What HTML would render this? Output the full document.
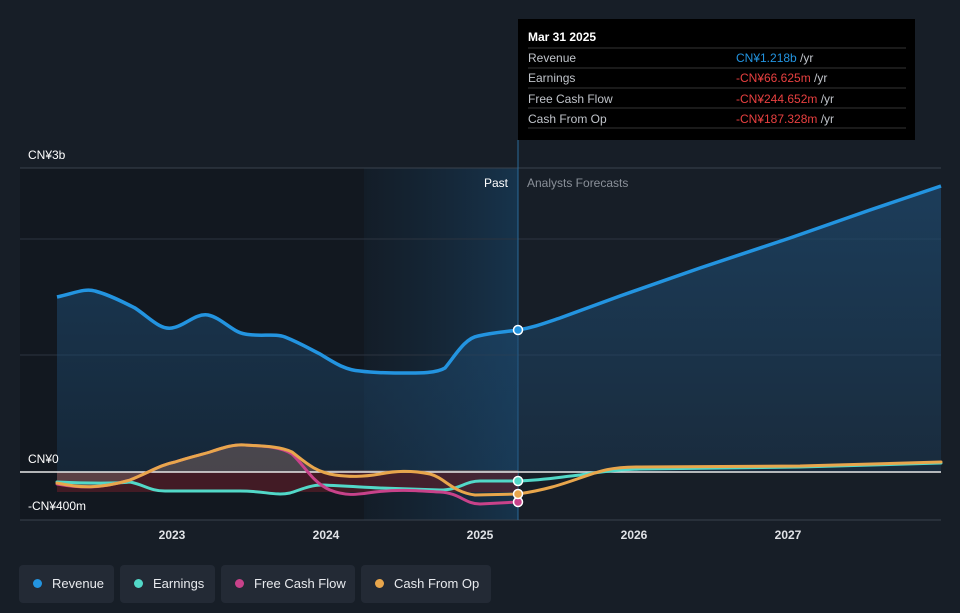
<!DOCTYPE html><html><head><style>
body{margin:0;background:#151b24;font-family:"Liberation Sans",sans-serif;}
.lg{position:absolute;top:565px;height:38px;background:#232a35;border-radius:4px;color:#e8eaee;font-size:13px;line-height:38px;}
.lg i{display:inline-block;width:9px;height:9px;border-radius:50%;margin:0 10px 0 14px;vertical-align:0}
</style></head><body>
<div style="position:relative;width:960px;height:613px;overflow:hidden">
<svg width="960" height="613" style="position:absolute;left:0;top:0">
<defs>
<linearGradient id="hl" x1="0" x2="1"><stop offset="0" stop-color="#1a3a56" stop-opacity="0.15"/><stop offset="1" stop-color="#1a4a70" stop-opacity="0.55"/></linearGradient>
<linearGradient id="rv" x1="0" y1="0" x2="0" y2="1"><stop offset="0" stop-color="#1e4a70" stop-opacity="0.7"/><stop offset="1" stop-color="#1e4a70" stop-opacity="0.3"/></linearGradient>
</defs>
<rect x="0" y="0" width="960" height="613" fill="#171e27"/>
<rect x="20" y="168" width="498" height="352" fill="#121820"/>
<rect x="364" y="168" width="154" height="352" fill="url(#hl)"/>
<g stroke="#2c3440" stroke-width="1">
<line x1="20" y1="168" x2="941" y2="168" stroke="#3a424d"/>
<line x1="20" y1="239" x2="941" y2="239"/>
<line x1="20" y1="355" x2="941" y2="355"/>
<line x1="20" y1="520" x2="941" y2="520" stroke="#3a424d"/>
</g>
<line x1="518" y1="140" x2="518" y2="520" stroke="#2a6a9a" stroke-width="1"/>
<path d="M57,297 C75,293 85,288 95,291 C110,295 125,303 135,308 C150,318 160,330 172,328 C185,326 195,313 208,315 C222,318 232,332 245,334 C260,337 275,333 285,337 C300,343 310,349 320,354 C335,363 345,370 360,371 C375,373 390,373 400,373 C415,373 435,374 445,368 C455,356 465,338 478,336 C495,332 505,332 518,330 C535,327 545,323 560,318 L620,296 L700,268 L790,238 L870,210 L941,186 L941,472 L57,472 Z" fill="url(#rv)"/>
<path d="M57,297 C75,293 85,288 95,291 C110,295 125,303 135,308 C150,318 160,330 172,328 C185,326 195,313 208,315 C222,318 232,332 245,334 C260,337 275,333 285,337 C300,343 310,349 320,354 C335,363 345,370 360,371 C375,373 390,373 400,373 C415,373 435,374 445,368 C455,356 465,338 478,336 C495,332 505,332 518,330 C535,327 545,323 560,318 L620,296 L700,268 L790,238 L870,210 L941,186" fill="none" stroke="#2394e0" stroke-width="3.5"/>
<rect x="57" y="472" width="461" height="20" fill="#6a1f2a" opacity="0.55"/>
<path d="M57,483 C75,486 95,489 130,480 C150,472 160,465 175,462 C190,457 200,455 210,452 C225,447 235,444 245,445 C260,446 275,445 288,450 C300,458 308,470 325,470 L518,470 L518,472 L57,472Z" fill="#6d5a5a" opacity="0.6"/>
<line x1="20" y1="472" x2="941" y2="472" stroke="#e8e8e8" stroke-width="1.5"/>
<g fill="none" stroke-width="3" stroke-linecap="round">
<path d="M57,482 C80,483 110,484 130,482 C145,485 150,491 165,491 L240,491 C265,491 275,496 290,493 C300,490 310,485 322,485 C345,486 360,487 380,488 L440,490 C460,490 465,481 480,481 L518,481 C545,480 560,477 580,475 C600,472 615,470 640,469 L800,467 L941,463" stroke="#52d8c8"/>
<path d="M57,484 C80,488 100,489 130,480 C150,472 160,465 175,462 C190,457 200,455 210,452 C225,447 235,444 245,445 C260,446 280,446 292,454 C305,466 312,482 330,490 C345,496 355,495 375,492 C400,489 420,491 440,492 C460,493 465,504 480,504 L518,502" stroke="#c8428a"/>
<path d="M57,483 C80,488 100,489 130,480 C150,472 160,465 175,462 C190,457 200,455 210,452 C225,447 235,444 245,445 C260,446 280,446 292,452 C305,462 315,472 335,475 C350,477 362,477 380,474 C395,471 410,470 430,474 C445,478 452,492 475,495 L518,494 C545,490 560,485 580,478 C600,471 610,467 640,467 L800,466 L941,462" stroke="#e8a64c"/>
</g>
<circle cx="518" cy="330" r="4.5" fill="#2394e0" stroke="#fff" stroke-width="1.5"/>
<circle cx="518" cy="502" r="4.5" fill="#c8428a" stroke="#fff" stroke-width="1.5"/>
<circle cx="518" cy="494" r="4.5" fill="#e8a64c" stroke="#fff" stroke-width="1.5"/>
<circle cx="518" cy="481" r="4.5" fill="#52d8c8" stroke="#fff" stroke-width="1.5"/>
<g font-size="12" fill="#ffffff">
<text x="28" y="159">CN¥3b</text>
<text x="28" y="463">CN¥0</text>
<text x="28" y="510">-CN¥400m</text>
</g>
<text x="508" y="187" font-size="12" fill="#ffffff" text-anchor="end">Past</text>
<text x="527" y="187" font-size="12" fill="#8a9099">Analysts Forecasts</text>
<g font-size="12" fill="#e0e2e6" font-weight="bold" text-anchor="middle">
<text x="172" y="539">2023</text><text x="326" y="539">2024</text><text x="480" y="539">2025</text><text x="634" y="539">2026</text><text x="788" y="539">2027</text>
</g>
<rect x="518" y="19" width="397" height="121" fill="#000000"/>
<text x="528" y="41" font-size="12" font-weight="bold" fill="#fff">Mar 31 2025</text>
<g stroke="#333" stroke-width="1"><line x1="528" y1="48" x2="906" y2="48"/><line x1="528" y1="68" x2="906" y2="68"/><line x1="528" y1="88" x2="906" y2="88"/><line x1="528" y1="108" x2="906" y2="108"/><line x1="528" y1="128" x2="906" y2="128"/></g>
<g font-size="12" fill="#c0c4ca">
<text x="528" y="62">Revenue</text><text x="528" y="82">Earnings</text><text x="528" y="103">Free Cash Flow</text><text x="528" y="123">Cash From Op</text>
</g>
<g font-size="12">
<text x="736" y="62" fill="#2394e0">CN¥1.218b <tspan fill="#c0c4ca">/yr</tspan></text>
<text x="736" y="82" fill="#e84040">-CN¥66.625m <tspan fill="#c0c4ca">/yr</tspan></text>
<text x="736" y="103" fill="#e84040">-CN¥244.652m <tspan fill="#c0c4ca">/yr</tspan></text>
<text x="736" y="123" fill="#e84040">-CN¥187.328m <tspan fill="#c0c4ca">/yr</tspan></text>
</g>
</svg>
<div class="lg" style="left:19px;width:95px"><i style="background:#2394e0"></i>Revenue</div>
<div class="lg" style="left:120px;width:95px"><i style="background:#52d8c8"></i>Earnings</div>
<div class="lg" style="left:221px;width:134px"><i style="background:#c8428a"></i>Free Cash Flow</div>
<div class="lg" style="left:361px;width:130px"><i style="background:#e8a64c"></i>Cash From Op</div>
</div>
</body></html>
